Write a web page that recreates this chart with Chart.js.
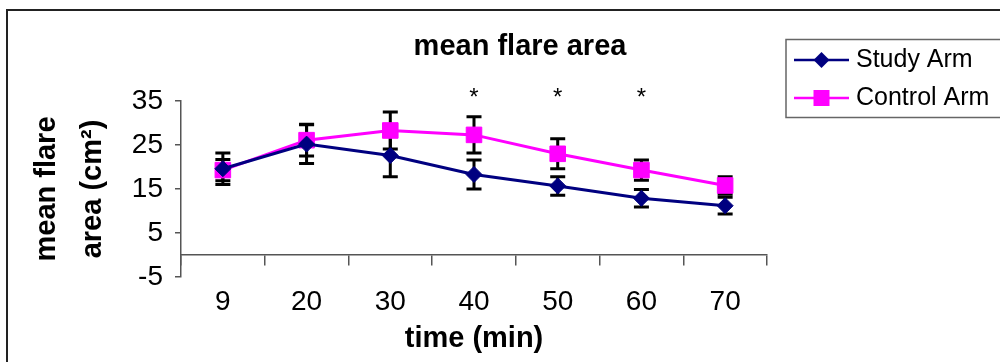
<!DOCTYPE html>
<html>
<head>
<meta charset="utf-8">
<script src="https://cdn.jsdelivr.net/npm/chart.js@4.4.0/dist/chart.umd.min.js"></script>
<style>
    html, body { margin: 0; padding: 0; background: #fff; }
    #wrap { width: 1000px; height: 362px; }
</style>
</head>
<body>
<div id="wrap"><canvas id="flareChart" width="1000" height="362"></canvas></div>
<script>
// data
const timeLabels = ['9', '20', '30', '40', '50', '60', '70'];
const studyArm = [19.6, 25.2, 22.6, 18.3, 15.7, 12.9, 11.2];
const studyErr = [3.6, 4.4, 4.8, 3.3, 2.1, 2.0, 1.9];
const controlArm = [19.3, 26.1, 28.3, 27.3, 23.0, 19.3, 15.8];
const controlErr = [2.4, 3.6, 4.2, 4.1, 3.4, 2.3, 2.0];
const yTicks = [-5, 5, 15, 25, 35];
const significant = ['40', '50', '60'];
const starLevel = 34;

const FONT = "'Liberation Sans', Arial, sans-serif";

// error bars, drawn under the markers
const errorBars = {
    id: 'errorBars',
    beforeDatasetsDraw(chart) {
        const ctx = chart.ctx, xs = chart.scales.x, ys = chart.scales.y;
        ctx.save();
        ctx.strokeStyle = '#000';
        ctx.lineWidth = 3;
        chart.data.datasets.forEach(ds => {
            ds.data.forEach((v, i) => {
                const px = xs.getPixelForValue(i);
                const top = ys.getPixelForValue(v + ds.errors[i]);
                const bot = ys.getPixelForValue(v - ds.errors[i]);
                ctx.beginPath();
                ctx.moveTo(px, top); ctx.lineTo(px, bot);
                ctx.moveTo(px - 7.5, top); ctx.lineTo(px + 7.5, top);
                ctx.moveTo(px - 7.5, bot); ctx.lineTo(px + 7.5, bot);
                ctx.stroke();
            });
        });
        ctx.restore();
    }
};

// frame, title, asterisks and legend box
const decorations = {
    id: 'decorations',
    afterDraw(chart) {
        const ctx = chart.ctx, xs = chart.scales.x, ys = chart.scales.y;
        ctx.save();

        // outer chart frame (only left and top are inside the picture)
        ctx.strokeStyle = '#222';
        ctx.lineWidth = 2;
        ctx.beginPath();
        ctx.moveTo(7, 362); ctx.lineTo(7, 10); ctx.lineTo(1000, 10);
        ctx.stroke();

        // title
        ctx.fillStyle = '#000';
        ctx.font = 'bold 29px ' + FONT;
        ctx.textAlign = 'center';
        ctx.textBaseline = 'alphabetic';
        ctx.fillText('mean flare area', 520, 55);

        // significance stars
        ctx.font = '24px ' + FONT;
        significant.forEach(lbl => {
            const px = xs.getPixelForValue(timeLabels.indexOf(lbl));
            ctx.fillText('*', px, ys.getPixelForValue(starLevel));
        });

        // legend
        ctx.strokeStyle = '#666';
        ctx.lineWidth = 1.5;
        ctx.strokeRect(786, 39.5, 230, 78);
        ctx.textAlign = 'left';
        ctx.textBaseline = 'middle';
        ctx.font = '25px ' + FONT;
        chart.data.datasets.forEach((ds, i) => {
            const ly = 60 + i * 38;
            ctx.strokeStyle = ds.borderColor;
            ctx.lineWidth = 2.5;
            ctx.beginPath();
            ctx.moveTo(794, ly); ctx.lineTo(849, ly);
            ctx.stroke();
            ctx.fillStyle = ds.backgroundColor;
            ctx.beginPath();
            if (ds.pointStyle === 'rectRot') {
                ctx.moveTo(821.5, ly - 8); ctx.lineTo(829.5, ly);
                ctx.lineTo(821.5, ly + 8); ctx.lineTo(813.5, ly);
                ctx.closePath();
            } else {
                ctx.rect(813.5, ly - 8, 16, 16);
            }
            ctx.fill();
            ctx.fillStyle = '#000';
            ctx.fillText(ds.label, 856, ly);
        });

        ctx.restore();
    }
};

new Chart(document.getElementById('flareChart'), {
    type: 'line',
    data: {
        labels: timeLabels,
        datasets: [{
            label: 'Study Arm',
            data: studyArm,
            errors: studyErr,
            borderColor: '#000080',
            backgroundColor: '#000080',
            borderWidth: 3,
            pointStyle: 'rectRot',
            pointRadius: 8,
            pointHoverRadius: 8,
            pointBorderWidth: 1,
            tension: 0
        }, {
            label: 'Control Arm',
            data: controlArm,
            errors: controlErr,
            borderColor: '#FF00FF',
            backgroundColor: '#FF00FF',
            borderWidth: 3,
            pointStyle: 'rect',
            pointRadius: 11,
            pointHoverRadius: 11,
            pointBorderWidth: 1,
            tension: 0
        }]
    },
    options: {
        responsive: false,
        animation: false,
        layout: { padding: { left: 0, right: 233, top: 101, bottom: 85 } },
        plugins: {
            legend: { display: false },
            title: { display: false },
            tooltip: { enabled: false }
        },
        scales: {
            x: {
                type: 'category',
                position: { y: 0 },
                offset: true,
                afterFit: s => { s.height = 101; },
                border: { display: true, color: '#555', width: 1.5 },
                grid: { offset: true, drawOnChartArea: false, drawTicks: true, tickLength: 10, color: '#555', lineWidth: 1.5 },
                ticks: { color: '#000', font: { family: FONT, size: 28 }, padding: 20, maxRotation: 0, autoSkip: false },
                title: { display: true, text: 'time (min)', color: '#000', font: { family: FONT, size: 29, weight: 'bold' }, padding: 0 }
            },
            y: {
                min: -5,
                max: 35,
                afterBuildTicks: s => { s.ticks = yTicks.map(v => ({ value: v })); },
                afterFit: s => { s.width = 181; },
                border: { display: true, color: '#555', width: 1.5 },
                grid: { drawOnChartArea: false, drawTicks: true, tickLength: 6, color: '#555', lineWidth: 1.5 },
                ticks: { color: '#000', font: { family: FONT, size: 28 }, padding: 12 },
                title: {
                    display: true,
                    text: ['mean flare', 'area (cm²)'],
                    color: '#000',
                    font: { family: FONT, size: 29, weight: 'bold', lineHeight: 1.586 },
                    padding: { top: 24, bottom: 0 }
                }
            }
        }
    },
    plugins: [errorBars, decorations]
});
</script>
</body>
</html>
